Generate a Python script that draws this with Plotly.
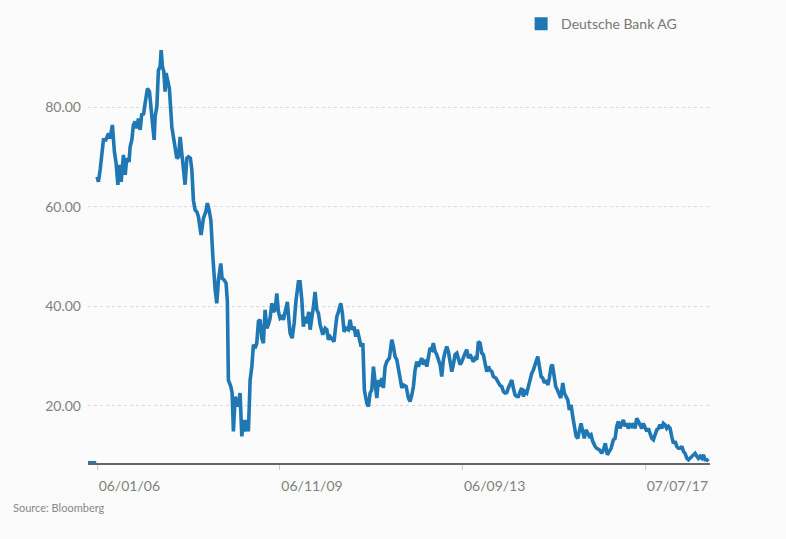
import pandas as pd
import plotly.graph_objects as go

# share price; x is weeks after 06/01/06
start_date = pd.Timestamp("2006-01-06")

# short stub sitting on the axis before the series starts
stub_weeks = [-10, -1]
stub_price = [8.6, 8.6]

weeks = [
    0, 1.4, 3.3, 6.9, 9.5, 10.6, 12.4, 14.2, 16.7, 18.9, 20.8, 22.7, 24.4, 26.3, 28.8,
    30.7, 32.5, 35.0, 36.1, 38.0, 39.7, 41.6, 43.5, 45.2, 47.1, 48.9, 50.7, 52.5, 55.1,
    57.3, 59.1, 61.0, 62.4, 63.5, 65.4, 67.1, 69.0, 70.1, 71.5, 73.0, 74.4, 75.5, 77.4,
    79.1, 81.8, 83.5, 85.4, 87.2, 89.0, 90.9, 92.7, 94.5, 96.3, 98.2, 99.9, 102.1, 103.7,
    105.4, 107.3, 109.1, 110.9, 113.8, 116.4, 119.0, 120.7, 122.6, 124.5, 126.7, 128.4,
    129.2, 131.0, 132.8, 135.4, 136.8, 139.0, 141.2, 142.6, 143.7, 146.4, 147.8, 149.2,
    151.1, 152.9, 154.7, 156.5, 158.4, 160.2, 162.0, 163.9, 165.6, 167.5, 169.4, 171.1,
    173.0, 174.8, 176.6, 178.4, 180.3, 182.0, 183.9, 185.8, 187.5, 189.4, 191.3, 193.0,
    194.9, 196.7, 198.5, 200.3, 202.2, 203.9, 205.8, 208.3, 209.9, 211.3, 213.5, 215.7,
    217.8, 220.4, 222.2, 224.1, 225.8, 227.7, 229.6, 231.7, 233.2, 235.0, 236.8, 238.6,
    240.5, 242.3, 244.1, 247.1, 249.6, 251.5, 253.2, 255.1, 257.3, 259.4, 260.5, 262.4,
    264.2, 266.8, 268.5, 270.4, 272.6, 275.1, 277.0, 278.8, 281.3, 283.2, 284.9, 287.1,
    289.0, 290.9, 292.6, 295.2, 297.0, 298.9, 300.7, 302.5, 304.3, 306.2, 307.9, 309.8,
    311.7, 313.4, 315.3, 317.1, 320.0, 322.6, 324.4, 326.2, 328.1, 329.8, 331.7, 333.6,
    335.3, 338.3, 340.8, 342.6, 344.5, 346.3, 348.1, 350.0, 351.7, 353.6, 355.4, 357.2,
    359.1, 360.9, 362.7, 364.5, 366.4, 368.1, 370.0, 371.9, 373.6, 375.5, 377.3, 379.1,
    381.0, 382.8, 384.6, 386.4, 388.3, 390.0, 391.9, 393.8, 395.5, 397.4, 399.2, 401.0,
    402.9, 404.7, 406.5, 408.3, 410.2, 411.9, 413.8, 415.7, 417.4, 419.3, 421.1, 422.9,
    424.7, 426.6, 428.4, 430.2, 432.1, 433.8, 436.5, 439.3, 441.2, 443.0, 444.8, 446.6,
    448.5, 450.2, 452.1, 454.0, 455.7, 457.6, 459.4, 461.2, 463.1, 464.9, 466.7, 468.5,
    470.4, 472.1, 474.0, 475.9, 477.6, 479.5, 481.3, 482.4, 484.2, 486.1, 487.9, 489.7,
    491.5, 493.4, 495.1, 497.0, 498.4, 500.3, 502.1, 503.9, 505.7, 507.6, 509.8, 511.5,
    513.4, 515.3, 517.0, 518.9, 520.7, 522.5, 524.4, 526.2, 528.0, 529.8, 531.7, 533.4,
    535.3, 537.2, 538.9, 540.8, 542.6, 545.2, 547.0, 549.9, 552.5, 554.3, 556.4, 558.6,
    560.8, 562.7, 565.2, 567.1, 568.9, 570.7, 572.5, 574.4, 576.1, 578.0, 579.9, 581.6,
    583.5, 585.3, 587.1, 589.0, 590.8, 592.6, 594.4, 596.3, 598.0, 599.9, 601.8, 603.5,
    605.4, 607.2, 609.0, 610.8, 612.7, 614.5, 616.3, 618.2, 619.9, 621.8, 623.6, 625.4,
    627.3, 629.1, 630.9, 632.8, 634.6, 636.4, 638.3, 640.1, 641.9, 643.7, 645.6, 647.4,
    649.2, 651.1, 652.8, 654.7, 656.6, 658.3, 660.1, 662.0, 663.8, 665.6, 667.5, 669.3,
]

price = [
    66.0, 65.0, 67.4, 73.4, 73.4, 74.0, 74.7, 73.7, 76.4, 71.0, 68.7, 64.4, 68.4, 65.0, 70.4,
    66.4, 69.7, 69.0, 72.0, 73.4, 76.4, 77.1, 75.7, 77.7, 75.4, 78.7, 78.4, 80.7, 83.7,
    83.1, 79.1, 76.0, 73.4, 78.1, 80.1, 87.4, 88.1, 91.4, 88.1, 87.1, 83.1, 86.8, 84.8,
    83.7, 76.0, 74.0, 70.7, 69.7, 70.0, 74.0, 70.7, 68.0, 64.4, 69.7, 70.0, 69.7, 67.4,
    61.3, 59.3, 59.0, 58.0, 54.3, 57.7, 59.0, 60.7, 59.3, 57.3, 50.0, 44.6,
    43.3, 40.6, 45.3, 48.6, 45.6, 45.3, 44.6, 40.9, 25.2, 23.9, 22.6, 14.9,
    21.9, 19.9, 20.6, 22.6, 13.9, 17.2, 14.9, 17.2, 14.9, 25.2, 27.9, 32.3,
    31.6, 32.6, 37.0, 37.3, 33.6, 32.6, 39.3, 35.6, 36.3, 37.6, 40.6, 38.9,
    39.3, 42.6, 38.9, 37.6, 37.9, 37.3, 38.9, 40.9, 37.3, 34.6, 33.6, 36.6,
    41.3, 44.9, 44.9, 41.3, 35.9, 37.9, 36.6, 38.9, 35.3, 37.3, 39.9, 42.9,
    39.3, 38.6, 36.3, 34.3, 35.6, 35.3, 33.3, 33.9, 33.3, 32.9, 34.9, 37.9,
    38.9, 40.6, 38.6, 34.9, 35.6, 35.3, 37.3, 35.3, 35.9, 33.9, 35.3, 33.3,
    31.9, 32.6, 23.2, 20.6, 19.9, 22.6, 23.2, 27.9, 24.6, 21.6, 25.2, 23.9,
    25.6, 23.6, 27.9, 28.9, 29.6, 33.3, 31.9, 29.9, 29.3, 27.2, 24.9, 23.6,
    24.2, 23.9, 21.6, 20.9, 22.2, 23.9, 27.2, 28.9, 27.9, 28.9, 29.6, 28.3,
    29.3, 27.9, 29.6, 31.6, 31.3, 32.6, 30.9, 30.3, 29.3, 28.3, 25.9, 29.3,
    30.9, 31.9, 30.9, 29.3, 26.9, 28.3, 30.3, 30.6, 29.6, 28.3, 28.9, 29.9,
    30.6, 31.3, 29.6, 30.3, 29.3, 28.9, 29.6, 29.3, 32.9, 32.6, 30.6, 30.3,
    28.6, 26.9, 27.9, 27.2, 26.9, 25.9, 25.6, 24.6, 24.1, 23.9, 22.9, 22.6,
    22.7, 23.6, 24.4, 25.2, 23.6, 22.2, 21.9, 21.9, 22.9, 23.6, 21.9, 22.9,
    22.6, 23.9, 25.9, 26.6, 27.2, 28.6, 29.3, 29.9, 27.9, 25.9, 25.6, 24.6,
    25.2, 24.2, 25.6, 27.9, 28.3, 26.3, 23.9, 23.2, 22.6, 21.6, 24.6, 22.6,
    21.9, 21.2, 19.2, 20.2, 17.9, 15.9, 13.9, 13.5, 14.9, 16.5, 14.9, 13.5,
    15.2, 14.5, 13.9, 14.2, 12.9, 11.9, 11.5, 11.2, 10.5, 11.2, 12.5, 10.2,
    10.9, 11.5, 13.2, 13.5, 15.9, 16.9, 15.5, 16.5, 17.2, 15.9, 16.5, 15.5,
    16.2, 15.9, 16.5, 15.5, 17.5, 16.9, 16.2, 15.5, 16.5, 15.5, 14.9, 15.5,
    14.5, 13.5, 13.2, 14.2, 15.2, 15.5, 16.2, 15.5, 16.5, 16.2, 15.5, 15.9,
    15.5, 13.9, 12.5, 12.9, 11.9, 11.5, 11.5, 11.9, 10.9, 10.5, 9.5, 9.2,
    9.5, 9.9, 10.2, 10.5, 9.9, 9.5, 9.9, 9.5, 10.2, 9.2, 9.2, 8.9,
]

tick_dates = ["2006-01-06", "2009-11-06", "2013-09-06", "2017-07-07"]
y_ticks = [20, 40, 60, 80]

series_name = "Deutsche Bank AG"
blue = "#1f77b4"
bg = "#fbfbfb"


def to_dates(w):
    return [start_date + pd.Timedelta(days=7 * v) for v in w]


x_all = to_dates(stub_weeks) + [None] + to_dates(weeks)
y_all = stub_price + [None] + price

fig = go.Figure()
fig.add_trace(go.Scatter(
    x=x_all, y=y_all, mode="lines",
    line=dict(color=blue, width=3.6),
    connectgaps=False, showlegend=False,
))
# square legend key
fig.add_trace(go.Scatter(
    x=[None], y=[None], mode="markers", name=series_name,
    marker=dict(symbol="square", size=13, color=blue),
))

fig.update_layout(
    width=786, height=539,
    margin=dict(l=88, r=76, t=42, b=76, autoexpand=False),
    paper_bgcolor=bg, plot_bgcolor=bg,
    font=dict(family="Lato, Open Sans, sans-serif", color="#808080", size=13),
    legend=dict(
        xref="container", yref="container",
        x=0.663, y=0.955, xanchor="left", yanchor="middle",
        orientation="h", font=dict(size=14, color="#777"),
        bgcolor="rgba(0,0,0,0)", itemwidth=30,
    ),
    annotations=[dict(
        text="Source: Bloomberg", xref="paper", yref="paper",
        x=-0.124, y=-0.105, xanchor="left", yanchor="middle",
        showarrow=False, font=dict(size=11, color="#888"),
    )],
)

fig.update_xaxes(
    range=[start_date + pd.Timedelta(days=-70), start_date + pd.Timedelta(days=7 * 671)],
    tickvals=tick_dates, tickformat="%d/%m/%y",
    ticklabelposition="outside right",
    ticks="outside", ticklen=5, tickcolor="#ccc",
    showgrid=False, showline=True, linecolor="#666", linewidth=2,
    ticklabelstandoff=9, zeroline=False, tickfont=dict(size=14),
)
fig.update_yaxes(
    range=[8.55, 93.05], tickvals=y_ticks, tickformat=".2f",
    showgrid=True, gridcolor="#d9d9d9", griddash="dot", gridwidth=1,
    showline=False, zeroline=False, ticks="", ticklabelstandoff=6,
    tickfont=dict(size=14),
)

# the page has no margin of its own, so the figure fills the window
fig.write_html(
    "out.html",
    config={"displayModeBar": False},
    post_script="document.body.style.margin='0';document.body.style.background='%s';" % bg,
)
